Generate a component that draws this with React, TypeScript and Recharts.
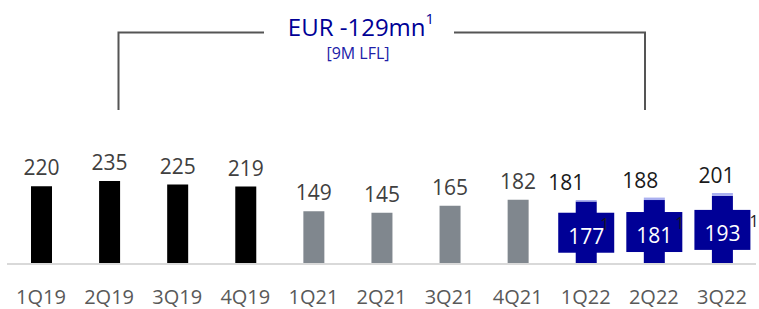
import { BarChart, Bar, XAxis, YAxis, Cell, LabelList } from "recharts";

const quarters = ["1Q19", "2Q19", "3Q19", "4Q19", "1Q21", "2Q21", "3Q21", "4Q21", "1Q22", "2Q22", "3Q22"];
const reported = [220, 235, 225, 219, 149, 145, 165, 182, 181, 188, 201];
const lflValues: (number | null)[] = [null, null, null, null, null, null, null, null, 177, 181, 193];
const yTicks = [0, 300];

const headline = "EUR -129mn";
const headlineNote = "[9M LFL]";

const FONT = "'Segoe UI', 'Open Sans', sans-serif";
const NAVY = "#000096";
const LAVENDER = "#aab0f0";
const GRAY = "#80878e";

// small nudges seen in the slide for the 2022 labels
const totalShift = [-20, -14, -6];
const noteShift = [14, 21, 27];

const data = quarters.map((quarter, i) => ({
  quarter,
  base: lflValues[i] ?? reported[i],
  uplift: lflValues[i] == null ? 0 : reported[i] - (lflValues[i] as number),
  total: reported[i],
  isLfl: lflValues[i] != null,
}));

const barColor = (q: string) => (q.endsWith("19") ? "#000000" : q.endsWith("21") ? GRAY : NAVY);

function BaseLabel(props: any) {
  const { x, y, width, height, index, value } = props;
  const row = data[index];
  if (!row) return null;
  const cx = x + width / 2;
  const pxPerUnit = height / value;
  const topY = y - row.uplift * pxPerUnit;
  const k = index - 8;
  if (!row.isLfl) {
    return (
      <text x={cx} y={topY - 11} textAnchor="middle" fontSize={21} fill="#404040" fontFamily={FONT}>
        {row.total}
      </text>
    );
  }
  const midY = y + height / 2;
  return (
    <g>
      <text x={cx + totalShift[k]} y={topY - 10} textAnchor="middle" fontSize={21} fill="#1a1a1a" fontFamily={FONT}>
        {row.total}
      </text>
      <rect x={cx - 28} y={midY - 20} width={56} height={40} fill={NAVY} />
      <text x={cx} y={midY + 11} textAnchor="middle" fontSize={21} fill="#ffffff" fontFamily={FONT}>
        {value}
      </text>
      <text x={cx + noteShift[k]} y={midY - 3} textAnchor="start" fontSize={16} fill="#1a1a1a" fontFamily={FONT}>
        1
      </text>
    </g>
  );
}

function QuarterTick(props: any) {
  const { x, y, payload } = props;
  return (
    <text x={x} y={y + 40} textAnchor="middle" fontSize={20} fill="#595959" fontFamily={FONT}>
      {payload.value}
    </text>
  );
}

export default function App() {
  return (
    <div style={{ position: "absolute", left: 0, top: 0, width: 759, height: 309, background: "#fff" }}>
      <BarChart width={759} height={309} data={data} margin={{ top: 158, right: 3, bottom: 0, left: 7 }} barSize={21}>
        <XAxis
          dataKey="quarter"
          interval={0}
          height={45}
          tickLine={false}
          tickSize={0}
          tickMargin={0}
          axisLine={{ stroke: "#d9d9d9", strokeWidth: 2 }}
          tick={<QuarterTick />}
        />
        <YAxis hide domain={[yTicks[0], yTicks[1]]} ticks={yTicks} />
        <Bar dataKey="base" stackId="q" isAnimationActive={false}>
          {data.map((d) => (
            <Cell key={d.quarter} fill={barColor(d.quarter)} />
          ))}
          <LabelList dataKey="base" content={<BaseLabel />} />
        </Bar>
        <Bar dataKey="uplift" stackId="q" fill={LAVENDER} isAnimationActive={false} />
      </BarChart>
      <svg width={759} height={309} style={{ position: "absolute", left: 0, top: 0, pointerEvents: "none" }}>
        <path d="M118.5 110 V32.5 H264" fill="none" stroke="#555" strokeWidth={2} />
        <path d="M454 32.5 H645 V110" fill="none" stroke="#555" strokeWidth={2} />
        <text x={361} y={36} textAnchor="middle" fontSize={24} fill={NAVY} fontFamily={FONT}>
          {headline}
          <tspan fontSize={15} dy={-12}>1</tspan>
        </text>
        <text x={358} y={59} textAnchor="middle" fontSize={16} fill="#2020a8" fontFamily={FONT}>
          {headlineNote}
        </text>
      </svg>
    </div>
  );
}
